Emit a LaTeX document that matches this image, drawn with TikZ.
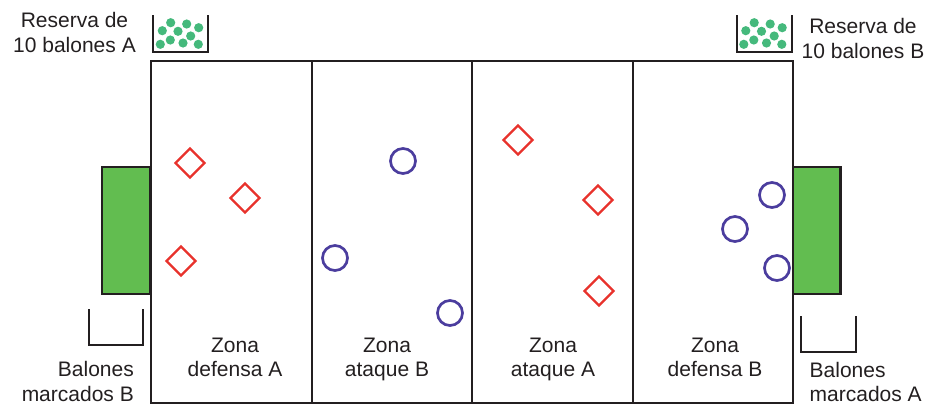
\documentclass[tikz,border=0pt]{standalone}
\usepackage{fontspec}
\setmainfont{Liberation Sans}
\usetikzlibrary{shapes.geometric}
\definecolor{goalgreen}{HTML}{62BD50}
\definecolor{ballgreen}{HTML}{45B97C}
\definecolor{redmark}{HTML}{E8322C}
\definecolor{bluemark}{HTML}{4B3D9E}
\definecolor{inkline}{HTML}{231F20}
\tikzset{
  fieldline/.style={line width=2.9pt,draw=inkline},
  basketline/.style={line width=2.6pt,draw=inkline},
  label/.style={text=inkline,font=\fontsize{21}{24.5}\selectfont,inner sep=0pt,align=center,anchor=north},
  redplayer/.style={diamond,draw=redmark,line width=2.4pt,minimum size=30pt,inner sep=0pt},
  blueplayer/.style={circle,draw=bluemark,line width=2.7pt,minimum size=25pt,inner sep=0pt},
}
\begin{document}
\begin{tikzpicture}[x=1pt,y=-1pt]
\useasboundingbox (0,0) rectangle (926,405);
% Goals
\draw[fieldline,fill=goalgreen] (102,167) rectangle (150,294);
\draw[fieldline,fill=goalgreen] (793,167) rectangle (840.5,294);

% Field
\draw[fieldline] (151,61) rectangle (312,403);
\draw[fieldline] (312,61) rectangle (472,403);
\draw[fieldline] (472,61) rectangle (633,403);
\draw[fieldline] (633,61) rectangle (793,403);

% Reserve baskets
\draw[basketline] (153,15) -- (153,52) -- (208,52) -- (208,15);
\draw[basketline] (737,15) -- (737,52) -- (792,52) -- (792,15);
\foreach \dx in {0,583.5}
  \foreach \bx/\by in {160.3/44.3,170.3/40,183/43,198.3/44.3,190.7/36,178/31.3,162.3/30.7,170.7/22.7,186.7/24,198.7/27.7}
    \fill[ballgreen] (\bx+\dx,\by) circle (4.6);

% Marked ball baskets
\draw[basketline] (89,309) -- (89,345) -- (143,345) -- (143,309);
\draw[basketline] (801,316) -- (801,352) -- (856,352) -- (856,316);

% Players
\node[redplayer] (redA) at (190,163) {};
\node[redplayer] (redB) at (245,198) {};
\node[redplayer] (redC) at (181,261) {};
\node[redplayer] (redD) at (518,140) {};
\node[redplayer] (redE) at (598,200) {};
\node[redplayer] (redF) at (599,291) {};
\node[blueplayer] (blueA) at (403,161) {};
\node[blueplayer] (blueB) at (335,258) {};
\node[blueplayer] (blueC) at (450,313) {};
\node[blueplayer] (blueD) at (735,229) {};
\node[blueplayer] (blueE) at (772,195) {};
\node[blueplayer] (blueF) at (777,268) {};

% Labels
\node[label] (reserveA) at (74.5,12.5) {Reserva de\\10 balones A};
\node[label] (reserveB) at (863,18.5) {Reserva de\\10 balones B};
\node[label,align=right,anchor=north east] (markedB) at (134,361.5) {Balones\\marcados B};
\node[label,align=left,anchor=north west] (markedA) at (809.5,362) {Balones\\marcados A};
\node[label] (zoneA) at (235,337.5) {Zona\\defensa A};
\node[label] (zoneB) at (387,337.5) {Zona\\ataque B};
\node[label] (zoneC) at (553,337.5) {Zona\\ataque A};
\node[label] (zoneD) at (715,337.5) {Zona\\defensa B};
\end{tikzpicture}
\end{document}
